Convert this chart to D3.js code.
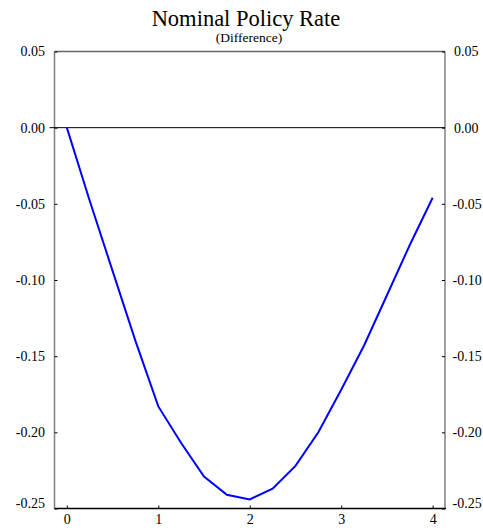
<!DOCTYPE html>
<html><head><meta charset="utf-8">
<script src="https://cdn.jsdelivr.net/npm/d3@7"></script>
<style>body{margin:0;background:#fff}svg{display:block}text{font-family:"Liberation Serif","Times New Roman",serif;fill:#000}</style>
</head><body>
<script>
const title = "Nominal Policy Rate";
const subtitle = "(Difference)";
const years = [0,0.25,0.5,0.75,1,1.25,1.5,1.75,2,2.25,2.5,2.75,3,3.25,3.5,3.75,4];
const values = [0,-0.048,-0.094,-0.140,-0.183,-0.207,-0.229,-0.241,-0.244,-0.237,-0.222,-0.200,-0.172,-0.143,-0.110,-0.077,-0.046];
const xTicks = [0,1,2,3,4];
const yTicks = [0.05,0,-0.05,-0.10,-0.15,-0.20,-0.25];

const W=483,H=530;
const L=54.5,R=445,T=51.5,B=508.5;
const svg=d3.select("body").append("svg").attr("width",W).attr("height",H);
const x=d3.scaleLinear().domain([-0.135,4.135]).range([L,R]);
const y=d3.scaleLinear().domain([-0.25,0.05]).range([B,T]);

svg.append("text").attr("x",246).attr("y",25.5).attr("text-anchor","middle").attr("font-size",22.5).text(title);
svg.append("text").attr("x",249).attr("y",41.5).attr("text-anchor","middle").attr("font-size",13.5).text(subtitle);

// frame
const g=svg.append("g");
g.append("line").attr("x1",L).attr("x2",R).attr("y1",T).attr("y2",T).attr("stroke","#666").attr("stroke-width",1.3);
g.append("line").attr("x1",L).attr("x2",L).attr("y1",T).attr("y2",B).attr("stroke","#808080").attr("stroke-width",1.5);
g.append("line").attr("x1",R).attr("x2",R).attr("y1",T).attr("y2",B).attr("stroke","#808080").attr("stroke-width",1.5);

// y axes
const fmt=d=>d3.format(".2f")(d).replace("\u2212","-");
const yl=d3.axisLeft(y).tickValues(yTicks).tickSize(-3).tickPadding(9.5).tickFormat(fmt);
const ya=svg.append("g").attr("transform",`translate(${L},0)`).call(yl);
const yr=d3.axisRight(y).tickValues(yTicks).tickSize(-3).tickPadding(9).tickFormat(fmt);
const yb=svg.append("g").attr("transform",`translate(${R},0)`).call(yr);
[ya,yb].forEach(a=>{
  a.select(".domain").remove();
  a.selectAll("line").attr("stroke","#000");
  a.selectAll("text").attr("font-size",14).attr("font-family","Liberation Serif").attr("fill","#000");
  a.selectAll(".tick").filter(d=>d===-0.25).select("text").attr("dy","-0.1em");
});
yb.selectAll(".tick").filter(d=>d<0).select("text").attr("x",7.5);

// x axis
const xa=svg.append("g").attr("transform",`translate(0,${B})`).call(d3.axisBottom(x).tickValues(xTicks).tickSize(-3).tickPadding(6).tickFormat(d3.format("d")));
xa.select(".domain").remove();
xa.selectAll("line").attr("stroke","#000");
xa.selectAll("text").attr("font-size",14).attr("font-family","Liberation Serif").attr("fill","#000");
svg.append("line").attr("x1",L).attr("x2",R+1).attr("y1",B).attr("y2",B).attr("stroke","#000").attr("stroke-width",1.5);

// zero line
svg.append("line").attr("x1",L-5).attr("x2",R).attr("y1",y(0)).attr("y2",y(0)).attr("stroke","#000").attr("stroke-width",1);

// series
const line=d3.line().x((d,i)=>x(years[i])).y(d=>y(d));
svg.append("path").datum(values).attr("d",line).attr("fill","none").attr("stroke","#0000ff").attr("stroke-width",2);
</script>
</body></html>
